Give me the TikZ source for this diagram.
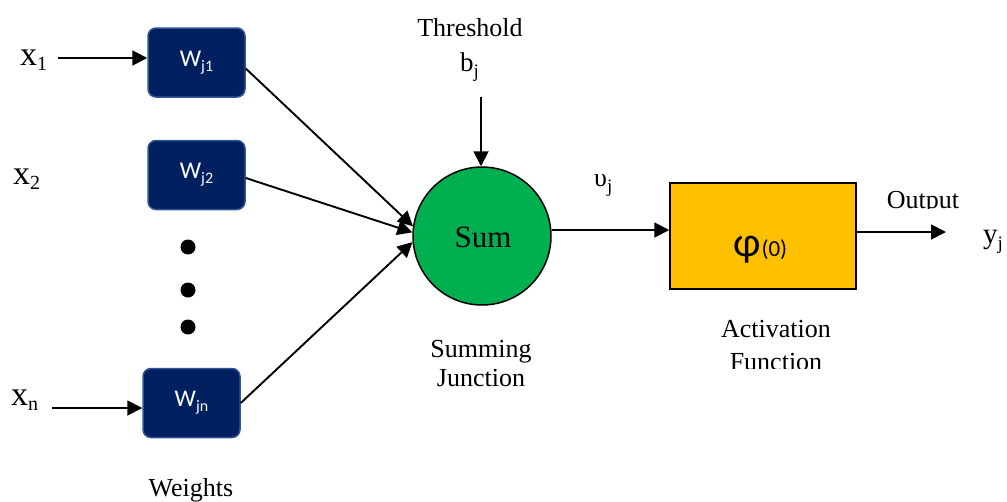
\documentclass[tikz,border=0pt]{standalone}
\usepackage{fontspec}
\setmainfont{Liberation Serif}
\newfontfamily\carlitofont{Carlito}
\usetikzlibrary{arrows.meta}
\newcommand\mysubscr[3]{\raisebox{-#2pt}{\fontsize{#1}{#1}\selectfont #3}}
\begin{document}
\begin{tikzpicture}[x=1pt,y=-1pt,
  wbox/.style={draw=wborder,line width=1.5pt,fill=wfill,rounded corners=8pt,minimum width=97pt,minimum height=69pt,inner sep=0pt,text=white,font=\carlitofont\fontsize{24}{26}\selectfont},
  arr/.style={line width=1.9pt,-{Triangle[length=15pt,width=15pt]}},
  lbl/.style={inner sep=0pt,anchor=base,font=\fontsize{26}{30}\selectfont},
  var/.style={inner sep=0pt,anchor=base west,font=\fontsize{34}{36}\selectfont},
  dot/.style={circle,fill=black,inner sep=0pt,minimum size=15pt}]
\definecolor{wfill}{HTML}{002060}
\definecolor{wborder}{HTML}{2F5597}
\definecolor{sumgreen}{HTML}{00B050}
\definecolor{actyellow}{HTML}{FFC000}
\useasboundingbox (0,0) rectangle (1007,501);
% weight boxes
\node[wbox] (w1) at (196.5,62.5) {W\mysubscr{16}{5}{j1}};
\node[wbox] (w2) at (196.5,175) {W\mysubscr{16}{5}{j2}};
\node[wbox] (wn) at (191.5,403) {W\mysubscr{16}{5}{jn}};
% inputs
\node[var] (x1) at (20,65) {x\mysubscr{20}{5}{1}};
\node[var] (x2) at (13,184) {x\mysubscr{20}{5}{2}};
\node[var] (xn) at (11,405) {x\mysubscr{20}{5}{n}};
\coordinate (x1e) at (58,58);
\coordinate (xne) at (52,408);
\draw[arr] (x1e) -- (x1e -| w1.west);
\draw[arr] (xne) -- (xne -| wn.west);
% dots
\node[dot] (d1) at (188,247) {};
\node[dot] (d2) at (188,290) {};
\node[dot] (d3) at (188,327) {};
% sum
\node[circle,draw=black,line width=1.5pt,fill=sumgreen,minimum size=138pt,inner sep=0pt] (sum) at (482,236) {};
\node[lbl,font=\fontsize{31}{34}\selectfont] (sumt) at (483,247) {Sum};
\coordinate (w1o) at ([yshift=-6pt]w1.east);
\coordinate (w2o) at ([yshift=-3pt]w2.east);
\draw[arr] (w1o) -- (sum.172);
\draw[arr] (w2o) -- (sum.177);
\draw[arr] (wn.east) -- (sum.185);
% threshold
\node[lbl] (th) at (470,36) {Threshold};
\node[var,font=\fontsize{27}{30}\selectfont] (bj) at (460,71) {b\mysubscr{19}{6}{j}};
\coordinate (bs) at (481,97);
\draw[arr] (bs) -- (bs |- sum.north);
% activation
\node[draw=black,line width=1.5pt,fill=actyellow,minimum width=186pt,minimum height=106pt,inner sep=0pt] (act) at (763,236) {};
\node[inner sep=0pt,anchor=base west,font=\carlitofont\fontsize{42}{44}\selectfont] (phi) at (733,256) {φ\hspace{1pt}\raisebox{0pt}{\fontsize{23}{24}\selectfont(0)}};
\coordinate (so) at (sum.east |- 0,230);
\draw[arr] (so) -- (so -| act.west);
\node[var,font=\fontsize{26}{28}\selectfont] (vj) at (594,186) {υ\mysubscr{19}{6}{j}};
\coordinate (ye) at (946,232);
\draw[arr] (act.east |- ye) -- (ye);
\node[var,font=\fontsize{29}{30}\selectfont] (yj) at (983,243) {y\mysubscr{19}{6}{j}};
\begin{scope}
\clip (870,180) rectangle (975,208.5);
\node[lbl] (out) at (923,208) {Output};
\end{scope}
\node[lbl] (af1) at (776,337) {Activation};
\begin{scope}
\clip (700,345) rectangle (850,368.5);
\node[lbl] (af2) at (776,370) {Function};
\end{scope}
\node[lbl] (sj1) at (481,357) {Summing};
\node[lbl] (sj2) at (481,386) {Junction};
\node[lbl] (wt) at (191,496) {Weights};
\end{tikzpicture}
\end{document}
